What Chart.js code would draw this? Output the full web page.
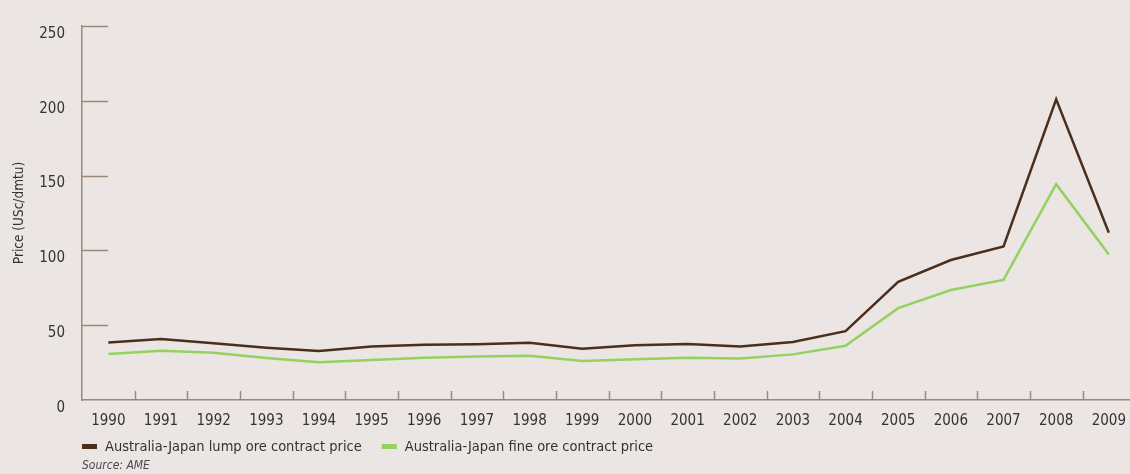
<!DOCTYPE html>
<html>
<head>
<meta charset="utf-8">
<script src="https://cdn.jsdelivr.net/npm/chart.js@4"></script>
<style>
  html, body { margin: 0; padding: 0; background: #ebe6e3; overflow: hidden; }
  canvas { display: block; }
</style>
</head>
<body>
<canvas id="myChart" width="1138" height="474"></canvas>
<script>
// values
const years = ["1990","1991","1992","1993","1994","1995","1996","1997","1998","1999",
               "2000","2001","2002","2003","2004","2005","2006","2007","2008","2009"];
const lumpPrice = [38.4, 40.8, 38, 35, 32.7, 35.7, 37, 37.3, 38.2, 34.2,
                   36.6, 37.5, 35.7, 38.8, 46, 79, 93.6, 102.6, 201, 111.8];
const finePrice = [30.7, 32.9, 31.6, 28.1, 25.2, 26.8, 28.3, 29, 29.6, 26.1,
                   27.2, 28.3, 27.8, 30.5, 36.2, 61.4, 73.5, 80.3, 144.3, 97.2];
const yTicks = [0, 50, 100, 150, 200, 250];
const seriesNames = ["Australia-Japan lump ore contract price", "Australia-Japan fine ore contract price"];
const sourceNote = "Source: AME";

const axisColor = "#9c8878";
const textColor = "#333333";
const fontFamily = "'Liberation Sans Narrow', 'DejaVu Sans Condensed', sans-serif";

// short tick marks drawn inside the plot, like the original
const innerTicks = {
  id: "innerTicks",
  afterDraw(chart) {
    const {ctx, chartArea, scales} = chart;
    const x = scales.x, y = scales.y;
    ctx.save();
    ctx.strokeStyle = axisColor;
    ctx.lineWidth = 1.5;
    yTicks.forEach(v => {
      if (v === 0) return;
      const py = Math.round(y.getPixelForValue(v)) + 0.5;
      ctx.beginPath();
      ctx.moveTo(chartArea.left, py);
      ctx.lineTo(chartArea.left + 26, py);
      ctx.stroke();
    });
    for (let i = 1; i < years.length; i++) {
      const px = Math.round((x.getPixelForValue(i - 1) + x.getPixelForValue(i)) / 2) + 0.5;
      ctx.beginPath();
      ctx.moveTo(px, chartArea.bottom);
      ctx.lineTo(px, chartArea.bottom - 9);
      ctx.stroke();
    }
    ctx.restore();
  }
};

// legend under the axis + source line
const bottomLegend = {
  id: "bottomLegend",
  afterDraw(chart) {
    const {ctx, chartArea} = chart;
    ctx.save();
    ctx.font = "14.5px " + fontFamily;
    ctx.textBaseline = "middle";
    let lx = chartArea.left;
    chart.data.datasets.forEach(ds => {
      ctx.fillStyle = ds.borderColor;
      ctx.fillRect(lx, 444, 15, 5);
      ctx.fillStyle = textColor;
      ctx.fillText(ds.label, lx + 23, 447);
      lx += 23 + ctx.measureText(ds.label).width + 20;
    });
    ctx.font = "italic 12px " + fontFamily;
    ctx.fillStyle = "#4a4a4a";
    ctx.fillText(sourceNote, chartArea.left, 466);
    ctx.restore();
  }
};

new Chart("myChart", {
  type: "line",
  data: {
    labels: years,
    datasets: [{
      label: seriesNames[0],
      data: lumpPrice,
      borderColor: "#4b2e1b",
      backgroundColor: "#4b2e1b",
      borderWidth: 2.5,
      pointRadius: 0,
      tension: 0
    }, {
      label: seriesNames[1],
      data: finePrice,
      borderColor: "#94d160",
      backgroundColor: "#94d160",
      borderWidth: 2.5,
      pointRadius: 0,
      tension: 0
    }]
  },
  options: {
    responsive: false,
    animation: false,
    devicePixelRatio: 1,
    layout: { padding: { top: 20, right: 0, left: 0, bottom: 34 } },
    plugins: {
      legend: { display: false },
      tooltip: { enabled: false }
    },
    scales: {
      x: {
        offset: true,
        afterFit(scale) { scale.height = 40; },
        grid: { display: false, drawTicks: false },
        border: { color: axisColor, width: 1.5 },
        ticks: { color: textColor, font: { family: fontFamily, size: 15 }, padding: 12, maxRotation: 0, autoSkip: false }
      },
      y: {
        min: 0,
        max: 250,
        afterBuildTicks(scale) { scale.ticks = yTicks.map(v => ({value: v})); },
        afterFit(scale) { scale.width = 82; },
        grid: { display: false, drawTicks: false },
        border: { color: axisColor, width: 1.5 },
        ticks: { color: textColor, font: { family: fontFamily, size: 15 }, padding: 17, labelOffset: 8 },
        title: {
          display: true,
          text: "Price (USc/dmtu)",
          color: textColor,
          font: { family: fontFamily, size: 13.5 },
          padding: { top: 11, bottom: 0 }
        }
      }
    }
  },
  plugins: [innerTicks, bottomLegend]
});
</script>
</body>
</html>
